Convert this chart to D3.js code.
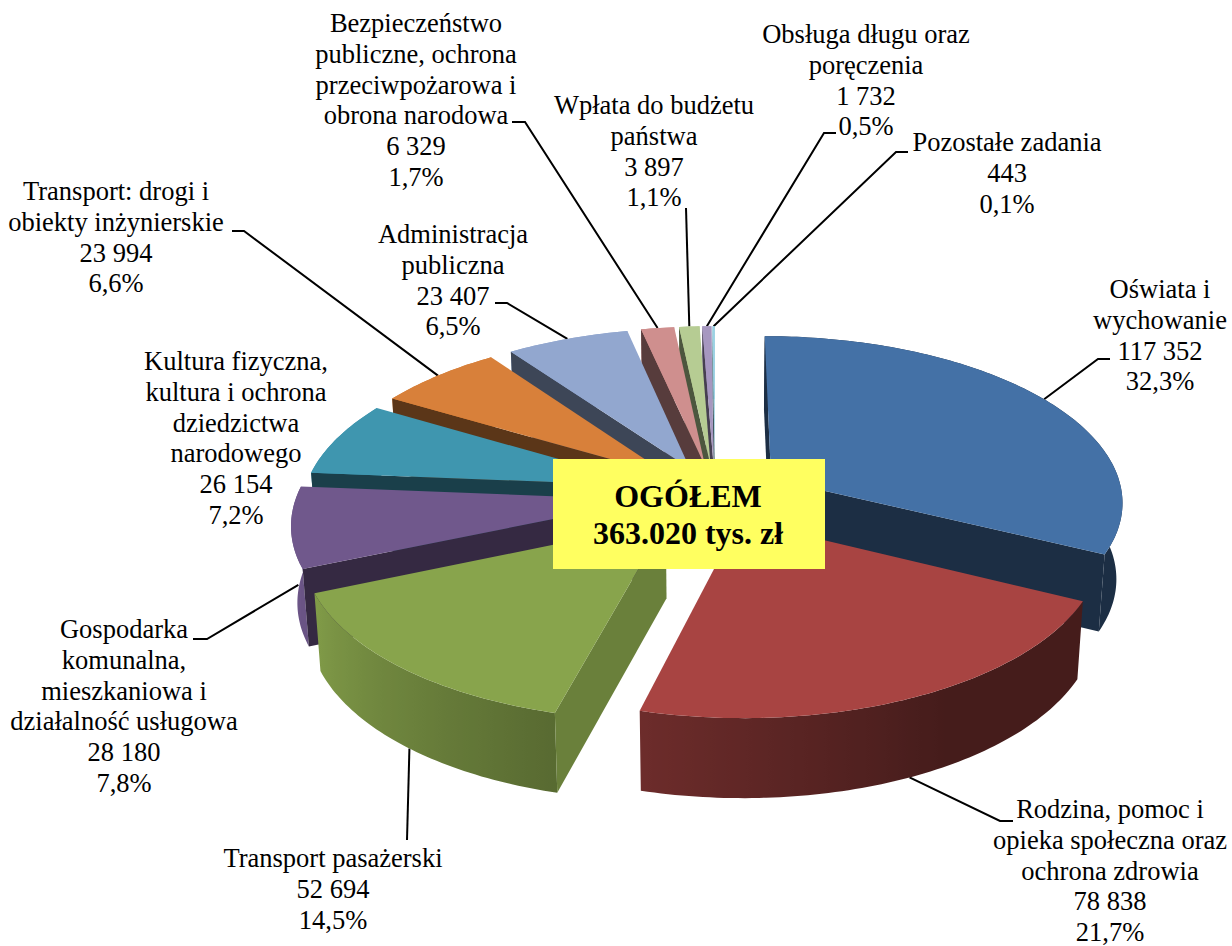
<!DOCTYPE html>
<html><head><meta charset="utf-8">
<script src="https://cdn.jsdelivr.net/npm/d3@7/dist/d3.min.js"></script>
<style>html,body{margin:0;background:#fff;overflow:hidden}svg{display:block}text{font-family:"Liberation Serif",serif;fill:#000}</style>
</head><body><svg id="c" width="1232" height="946"></svg>
<script>
// ---- data ----
const categories = [
  ["Oświata i","wychowanie"],
  ["Rodzina, pomoc i","opieka społeczna oraz","ochrona zdrowia"],
  ["Transport pasażerski"],
  ["Gospodarka","komunalna,","mieszkaniowa i","działalność usługowa"],
  ["Kultura fizyczna,","kultura i ochrona","dziedzictwa","narodowego"],
  ["Transport: drogi i","obiekty inżynierskie"],
  ["Administracja","publiczna"],
  ["Bezpieczeństwo","publiczne, ochrona","przeciwpożarowa i","obrona narodowa"],
  ["Wpłata do budżetu","państwa"],
  ["Obsługa długu oraz","poręczenia"],
  ["Pozostałe zadania"]
];
const values = [117352,78838,52694,28180,26154,23994,23407,6329,3897,1732,443];
const valueLabels = ["117 352","78 838","52 694","28 180","26 154","23 994","23 407","6 329","3 897","1 732","443"];
const percentLabels = ["32,3%","21,7%","14,5%","7,8%","7,2%","6,6%","6,5%","1,7%","1,1%","0,5%","0,1%"];
const totalLabel = ["OGÓŁEM","363.020 tys. zł"];

// ---- styling / layout ----
const colors = ["#4471a6","#a84442","#88a44c","#70588c","#3f96af","#d8803a","#92a7cf","#cf8f8e","#b6cc93","#a697c0","#9bd2e3"];
const startWallShade = [.41,.42,.78,.47,.42,.42,.42,.42,.42,.42,.42];
const labelX = [1160,1110,333,124,236,116,453,416,654,866,1007];
const labelY0 = [298,818,867,638,370,200,243,32,114,43,151];
const lineStep = 30.8;
const explodeBy = [.19,.165,.21,.19,.18,.18,.18,.18,.18,.18,.18];
const leaderLabelEnd = [
  [[1110,359],[1098,359]],[[1013,821],[1000,821]],[[407,840]],[[193,639],[207,639]],null,
  [[232,231],[244,231]],[[495,303],[507,303]],[[512,122],[525,122]],[[686,208]],[[836,133],[824,133]],[[908,152],[896,152]]
];
const leaderArcFrac = [.5,.5,.48,.18,.5,.5,.5,.5,.5,.5,.5];
const leaderDepth = [0,1,1,.4,0,0,0,0,0,0,0];

// ---- projection (perspective tilted pie) ----
const cx=715, cy=495, Rx=352, Rz=165, K=.13, depth=76, taper=.015;
function project(X,Z,h){
  const s=1/(1+K*Z), b=1-h*taper;
  return [cx+Rx*X*s*b, cy-Rz*Z*s+depth*h*(1+(s-1)*.3)];
}
const deg=r=>r*180/Math.PI;
const rimShade=d3.scaleLinear().domain([90,150,194.6,247,360]).range([.41,.41,.65,.95,1]).clamp(true);

const arcs=d3.pie().sort(null).startAngle(0).endAngle(2*Math.PI)(values);
const slices=arcs.map((a,i)=>{
  const mid=(a.startAngle+a.endAngle)/2, e=explodeBy[i];
  const ox=e*Math.sin(mid), oz=e*Math.cos(mid);
  return {i,a0:a.startAngle,a1:a.endAngle,mid,
    apex:h=>project(ox,oz,h),
    rim:(t,h)=>project(ox+Math.sin(t),oz+Math.cos(t),h)};
});
const svg=d3.select("#c");
const defs=svg.append("defs");
const line=d3.line();
const shaded=(c,f)=>d3.rgb(c.r*f,c.g*f,c.b*f).formatHex();

// leaders under the slices
const gL=svg.append("g");
slices.forEach((s,i)=>{
  if(!leaderLabelEnd[i])return;
  const t=s.a0+(s.a1-s.a0)*leaderArcFrac[i];
  const p=s.rim(t,leaderDepth[i]);
  gL.append("path").attr("d",line([...leaderLabelEnd[i],p])).attr("fill","none").attr("stroke","#000").attr("stroke-width",2);
});

// slices, back to front
const gP=svg.append("g");
const order=slices.slice().sort((a,b)=>Math.cos(b.mid)-Math.cos(a.mid));
order.forEach(s=>{
  const c=d3.color(colors[s.i]);
  const n=Math.max(2,Math.ceil(deg(s.a1-s.a0)));
  const ts=d3.range(n+1).map(k=>s.a0+(s.a1-s.a0)*k/n);
  const g=gP.append("g");
  // outer wall: a single path, lit by a horizontal gradient
  const front=ts.filter(t=>Math.cos(t)<.15);
  let wallFill=shaded(c,rimShade(deg(s.mid)));
  if(front.length>1){
    const pts=front.map(t=>({x:s.rim(t,0)[0],col:shaded(c,rimShade(deg(t)))})).sort((a,b)=>a.x-b.x);
    const x0=pts[0].x,x1=pts[pts.length-1].x;
    const pos=d3.scaleLinear().domain([x0,x1]).range([0,1]);
    const id="w"+s.i;
    defs.append("linearGradient").attr("id",id).attr("gradientUnits","userSpaceOnUse")
      .attr("x1",x0).attr("x2",x1).attr("y1",0).attr("y2",0)
      .selectAll("stop").data(pts).join("stop")
      .attr("offset",d=>pos(d.x)).attr("stop-color",d=>d.col);
    wallFill=`url(#${id})`;
  }
  g.append("path").attr("d",line([...ts.map(t=>s.rim(t,0)),...ts.slice().reverse().map(t=>s.rim(t,1))])+"Z").attr("fill",wallFill);
  // radial walls that face the viewer
  const A=s.apex(0), M=s.rim(s.mid,0);
  [[s.a0,startWallShade[s.i]],[s.a1,.41]].forEach(([t,f])=>{
    const R=s.rim(t,0), ex=R[0]-A[0], ey=R[1]-A[1];
    const side=ex*(M[1]-A[1])-ey*(M[0]-A[0]);
    if(side*ex<0){
      g.append("path").attr("d",line([A,R,s.rim(t,1),s.apex(1)])+"Z").attr("fill",shaded(c,f));
    }
  });
  // top
  g.append("path").attr("d",line([A,...ts.map(t=>s.rim(t,0))])+"Z").attr("fill",colors[s.i]);
});

// labels
const gT=svg.append("g").attr("font-size",26.5).attr("text-anchor","middle");
categories.forEach((lines,i)=>{
  [...lines,valueLabels[i],percentLabels[i]].forEach((t,j)=>{
    gT.append("text").attr("x",labelX[i]).attr("y",labelY0[i]+j*lineStep).text(t);
  });
});

// total box
svg.append("rect").attr("x",553).attr("y",459).attr("width",272).attr("height",110).attr("fill","#ffff60");
totalLabel.forEach((t,j)=>{
  svg.append("text").attr("x",688).attr("y",507+j*37).attr("text-anchor","middle")
    .attr("font-size",32).attr("font-weight","bold").text(t);
});
</script></body></html>
